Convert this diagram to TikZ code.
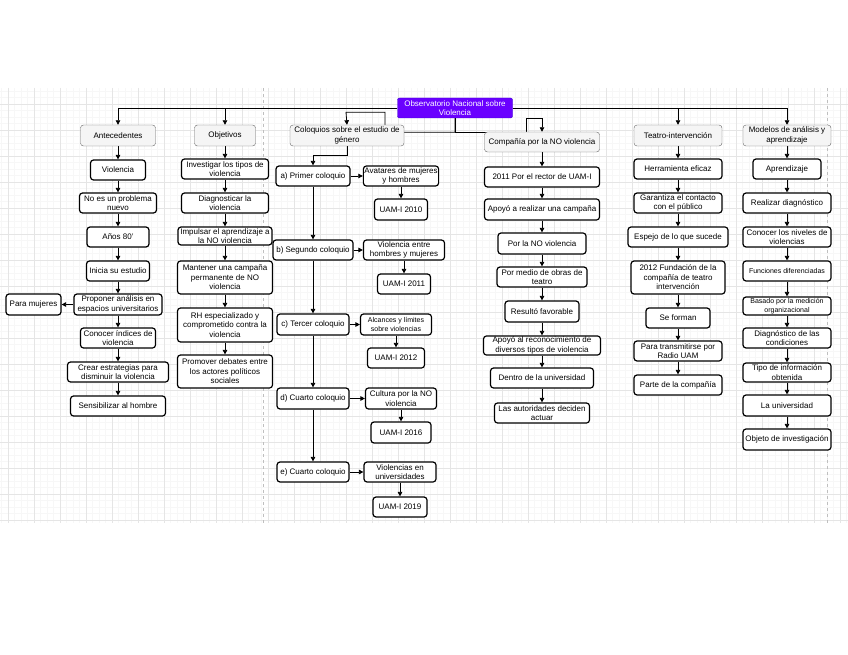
\documentclass[tikz,border=0pt]{standalone}
\usepackage{fontspec}
\setmainfont{Liberation Sans}
\usepackage{xcolor}
\usepackage{tikz}
\usetikzlibrary{arrows.meta, positioning, calc}
\pgfdeclarelayer{background}
\pgfsetlayers{background,main}

\definecolor{rootfill}{HTML}{6A00FF}
\definecolor{rootline}{HTML}{3700CC}
\definecolor{headfill}{HTML}{F5F5F5}
\definecolor{headline}{HTML}{666666}

\begin{document}
\begin{tikzpicture}[
  x=1pt, y=-1pt,
  root/.style={draw=rootline, fill=rootfill, text=white, rounded corners=2pt, align=center, font=\fontsize{8}{9.5}\selectfont, minimum width=115pt, minimum height=20pt, inner sep=1pt},
  head/.style={draw=headline, fill=headfill, rounded corners=3pt, align=center, font=\fontsize{8}{9.5}\selectfont, minimum height=21pt, inner sep=1pt},
  item/.style={draw=black, line width=1.2pt, fill=white, rounded corners=3pt, align=center, font=\fontsize{8}{9.5}\selectfont, minimum height=20pt, inner sep=1pt},
  smalltxt/.style={font=\fontsize{7}{8.5}\selectfont},
  arr/.style={-{Triangle[length=4.5pt, width=4.5pt]}, line width=0.8pt, black},
  minor/.style={black!3, line width=0.4pt},
  major/.style={black!10, line width=0.5pt}
]
\useasboundingbox (0,0) rectangle (848,655);

% root and column heads
\node[root] (obs) at (455,108) {Observatorio Nacional sobre\\Violencia};
\node[head, minimum width=75pt] (ante) at (118,135.5) {Antecedentes};
\node[head, minimum width=61pt] (obj) at (225,135.5) {Objetivos};
\node[head, minimum width=114pt] (colo) at (347,135.5) {Coloquios sobre el estudio de\\género};
\node[head, minimum width=115pt, minimum height=20pt] (comp) at (542,142) {Compañía por la NO violencia};
\node[head, minimum width=88pt] (teatro) at (678,135.5) {Teatro-intervención};
\node[head, minimum width=88pt] (modelos) at (787,135.5) {Modelos de análisis y\\aprendizaje};

% Antecedentes
\node[item, minimum width=55pt] (viol) at (118,170) {Violencia};
\node[item, minimum width=77pt] (nuevo) at (118,203) {No es un problema\\nuevo};
\node[item, minimum width=62pt] (anos) at (118,237) {Años 80'};
\node[item, minimum width=63pt] (inicia) at (118,271) {Inicia su estudio};
\node[item, minimum width=88pt, minimum height=21pt] (prop) at (118,304.5) {Proponer análisis en\\espacios universitarios};
\node[item, minimum width=55pt, minimum height=21pt] (mujeres) at (33.5,304.5) {Para mujeres};
\node[item, minimum width=75pt] (indices) at (118,338) {Conocer índices de\\violencia};
\node[item, minimum width=101pt] (crear) at (118,372) {Crear estrategias para\\disminuir la violencia};
\node[item, minimum width=95pt] (sensib) at (118,406) {Sensibilizar al hombre};

% Objetivos
\node[item, minimum width=87pt] (invest) at (225,169) {Investigar los tipos de\\violencia};
\node[item, minimum width=87pt] (diag) at (225,203) {Diagnosticar la\\violencia};
\node[item, minimum width=94pt, minimum height=18pt] (impul) at (225,236) {Impulsar el aprendizaje a\\la NO violencia};
\node[item, minimum width=95pt, minimum height=33pt] (mant) at (225,277.5) {Mantener una campaña\\permanente de NO\\violencia};
\node[item, minimum width=95pt, minimum height=34pt] (rh) at (225,325) {RH especializado y\\comprometido contra la\\violencia};
\node[item, minimum width=95pt, minimum height=33pt] (prom) at (225,371.5) {Promover debates entre\\los actores políticos\\sociales};

% Coloquios
\node[item, minimum width=74pt] (primer) at (313,176) {a) Primer coloquio};
\node[item, minimum width=74pt] (aval) at (401,176) {Avatares de mujeres\\y hombres};
\node[item, minimum width=53pt, minimum height=21pt] (uam10) at (401,209.5) {UAM-I 2010};
\node[item, minimum width=80pt] (segundo) at (313,250) {b) Segundo coloquio};
\node[item, minimum width=81pt] (viohm) at (404,250) {Violencia entre\\hombres y mujeres};
\node[item, minimum width=53pt] (uam11) at (404,284) {UAM-I 2011};
\node[item, minimum width=72pt, minimum height=21pt] (tercer) at (313,324.5) {c) Tercer coloquio};
\node[item, minimum width=71pt, minimum height=21pt, smalltxt] (alc) at (396,324.5) {Alcances y límites\\sobre violencias};
\node[item, minimum width=57pt] (uam12) at (396,358) {UAM-I 2012};
\node[item, minimum width=72pt, minimum height=21pt] (cuarto) at (313,398.5) {d) Cuarto coloquio};
\node[item, minimum width=71pt, minimum height=21pt] (cult) at (401,398.5) {Cultura por la NO\\violencia};
\node[item, minimum width=60pt, minimum height=21pt] (uam16) at (401,432.5) {UAM-I 2016};
\node[item, minimum width=72pt] (quinto) at (313,472) {e) Cuarto coloquio};
\node[item, minimum width=72pt] (vuni) at (400,472) {Violencias en\\universidades};
\node[item, minimum width=54pt] (uam19) at (400,507) {UAM-I 2019};

% Compañía por la NO violencia
\node[item, minimum width=115pt] (rector) at (542,177) {2011 Por el rector de UAM-I};
\node[item, minimum width=115pt, minimum height=21pt] (apoyo) at (542,209.5) {Apoyó a realizar una campaña};
\node[item, minimum width=88pt, minimum height=21pt] (pornv) at (542,243.5) {Por la NO violencia};
\node[item, minimum width=90pt] (obras) at (542,277) {Por medio de obras de\\teatro};
\node[item, minimum width=74pt, minimum height=21pt] (favor) at (542,311.5) {Resultó favorable};
\node[item, minimum width=117pt, minimum height=19pt] (recon) at (542,345.5) {Apoyó al reconocimiento de\\diversos tipos de violencia};
\node[item, minimum width=103pt] (dentro) at (542,378) {Dentro de la universidad};
\node[item, minimum width=95pt] (autor) at (542,413) {Las autoridades deciden\\actuar};

% Teatro-intervención
\node[item, minimum width=88pt] (herr) at (678,169) {Herramienta eficaz};
\node[item, minimum width=88pt] (garan) at (678,203) {Garantiza el contacto\\con el público};
\node[item, minimum width=100pt] (espejo) at (678,237) {Espejo de lo que sucede};
\node[item, minimum width=94pt, minimum height=33pt] (fund) at (678,277.5) {2012 Fundación de la\\compañía de teatro\\intervención};
\node[item, minimum width=64pt] (forman) at (678,318) {Se forman};
\node[item, minimum width=88pt] (radio) at (678,351) {Para transmitirse por\\Radio UAM};
\node[item, minimum width=88pt] (parte) at (678,385) {Parte de la compañía};

% Modelos de análisis y aprendizaje
\node[item, minimum width=68pt] (aprend) at (787,169) {Aprendizaje};
\node[item, minimum width=88pt] (realiz) at (787,203) {Realizar diagnóstico};
\node[item, minimum width=88pt] (niveles) at (787,237) {Conocer los niveles de\\violencias};
\node[item, minimum width=88pt, smalltxt] (funcion) at (787,271) {Funciones diferenciadas};
\node[item, minimum width=88pt, minimum height=18pt, smalltxt] (basado) at (787,306) {Basado por la medición\\organizacional};
\node[item, minimum width=88pt] (condic) at (787,338) {Diagnóstico de las\\condiciones};
\node[item, minimum width=88pt, minimum height=19pt] (tipo) at (787,372.5) {Tipo de información\\obtenida};
\node[item, minimum width=88pt, minimum height=21pt] (univ) at (787,405.5) {La universidad};
\node[item, minimum width=88pt, minimum height=21pt] (objeto) at (787,439.5) {Objeto de investigación};

\begin{pgfonlayer}{background}
% grid
\foreach \gx in {1.5,8,...,848} \draw[minor] (\gx,88) -- (\gx,523);
\foreach \gy in {91,97.5,...,523} \draw[minor] (0,\gy) -- (848,\gy);
\foreach \gx in {8,34,...,848} \draw[major] (\gx,88) -- (\gx,523);
\foreach \gy in {104,130,...,523} \draw[major] (0,\gy) -- (848,\gy);
\draw[black!25, dashed, line width=0.6pt] (263,88) -- (263,523);
\draw[black!25, dashed, line width=0.6pt] (827,88) -- (827,523);

% connectors from the root
\draw[arr] (obs.west) -| (ante.north);
\draw[arr] (obs.west) -| (obj.north);
\draw[arr] (obs.east) -| (teatro.north);
\draw[arr] (obs.east) -| (modelos.north);
\draw[arr] (obs.south) |- ++(-70,14) |- ++(-39,-20) -- (colo.north);
\draw[arr] (obs.south) |- ++(71,14) |- ++(16,-14) -- (comp.north);
\draw[arr] (colo.south) -- ++(0,9) -| (primer.north);

% column chains
\foreach \a/\b in {ante/viol, viol/nuevo, nuevo/anos, anos/inicia, inicia/prop, prop/indices, indices/crear, crear/sensib,
  obj/invest, invest/diag, diag/impul, impul/mant, mant/rh, rh/prom,
  primer/segundo, segundo/tercer, tercer/cuarto, cuarto/quinto,
  aval/uam10, viohm/uam11, alc/uam12, cult/uam16, vuni/uam19,
  comp/rector, rector/apoyo, apoyo/pornv, pornv/obras, obras/favor, favor/recon, recon/dentro, dentro/autor,
  teatro/herr, herr/garan, garan/espejo, espejo/fund, fund/forman, forman/radio, radio/parte,
  modelos/aprend, aprend/realiz, realiz/niveles, niveles/funcion, funcion/basado, basado/condic, condic/tipo, tipo/univ, univ/objeto}
  \draw[arr] (\a) -- (\b);

% side arrows
\foreach \a/\b in {prop/mujeres, primer/aval, segundo/viohm, tercer/alc, cuarto/cult, quinto/vuni}
  \draw[arr] (\a) -- (\b);
\end{pgfonlayer}
\end{tikzpicture}
\end{document}
